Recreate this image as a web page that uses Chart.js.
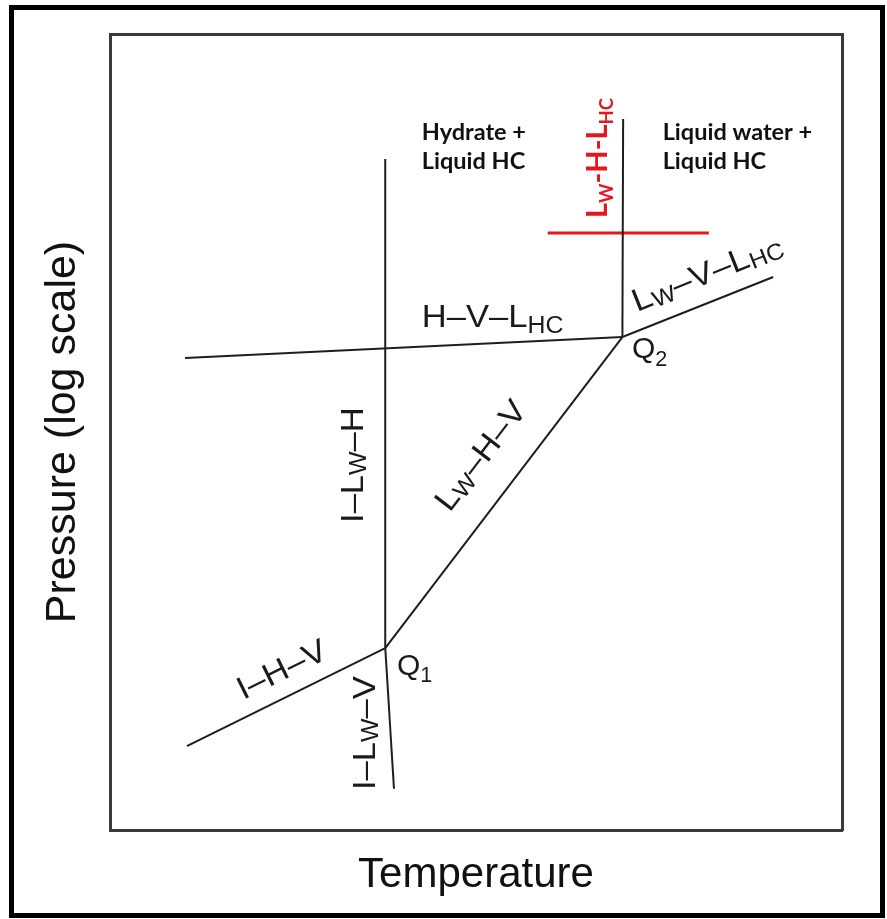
<!DOCTYPE html>
<html>
<head>
<meta charset="utf-8">
<script src="https://cdn.jsdelivr.net/npm/chart.js@4.4.1/dist/chart.umd.min.js"></script>
<style>
  html, body { margin: 0; padding: 0; background: #fff; }
  #wrap { position: relative; width: 887px; height: 919px; overflow: hidden; }
  #frame { position: absolute; left: 9px; top: 5px; width: 866px; height: 903px;
           border: 5px solid #000; pointer-events: none; }
  canvas { position: absolute; left: 0; top: 0; }
</style>
</head>
<body>
<div id="wrap">
  <canvas id="myChart" width="887" height="919"></canvas>
  <div id="frame"></div>
</div>
<script>
// phase boundary curves, temperature (arbitrary units) and pressure (log scale)
const curves = ["I-H-V", "I-Lw-V", "I-Lw-H", "Lw-H-V", "H-V-LHC", "Lw-V-LHC", "Lw-H-LHC"];
const tStart = [10.5, 37.6, 37.6, 37.6, 10.25, 70.0, 70.0];
const pStart = [2.07, 4.85, 4.85, 4.85, 60.1, 72.1, 72.1];
const tEnd   = [37.6, 38.8, 37.6, 70.0, 70.0, 90.6, 70.1];
const pEnd   = [4.85, 1.43, 338, 72.1, 72.1, 121.4, 478];

// red marker line across Lw-H-LHC
const redT = [59.8, 81.8];
const redP = [177.8, 177.8];

const tRange = [0, 100];
const pRange = [1, 1000];

const xTitle = "Temperature";
const yTitle = "Pressure (log scale)";

const datasets = curves.map((name, i) => ({
  label: name,
  data: [{ x: tStart[i], y: pStart[i] }, { x: tEnd[i], y: pEnd[i] }],
  showLine: true,
  borderColor: "#1e1e1e",
  borderWidth: 2,
  pointRadius: 0,
}));
datasets.push({
  label: "red",
  data: redT.map((t, i) => ({ x: t, y: redP[i] })),
  showLine: true,
  borderColor: "#e8161b",
  borderWidth: 3,
  pointRadius: 0,
});

const SANS = "'Liberation Sans', Arial, sans-serif";
const BOLD = "Lato, 'Noto Sans', sans-serif";

// text labels: anchor = start of baseline in data units, angle follows a curve when "along" is set
const labels = [
  { parts: [["Hydrate +"]], x: 42.6, p: 398.6, font: BOLD, weight: "bold", size: 23.5, color: "#111" },
  { parts: [["Liquid HC"]], x: 42.6, p: 309.9, font: BOLD, weight: "bold", size: 23.5, color: "#111" },
  { parts: [["Liquid water +"]], x: 75.5, p: 398.6, font: BOLD, weight: "bold", size: 23.5, color: "#111" },
  { parts: [["Liquid HC"]], x: 75.5, p: 309.9, font: BOLD, weight: "bold", size: 23.5, color: "#111" },
  { parts: [["L"], ["W", 1], ["-H-L"], ["HC", 1]], x: 67.9, p: 202.5, angle: -90,
    font: BOLD, weight: "bold", size: 29, color: "#e8161b", subScale: 0.64, subDrop: 0.22 },
  { parts: [["H\u2013V\u2013L"], ["HC", 1]], x: 42.6, p: 78.6, font: SANS, size: 32, hScale: 1.08, subDrop: 0.2 },
  { parts: [["L"], ["W", 1], ["\u2013V\u2013L"], ["HC", 1]], x: 72.0, p: 89.6, along: 5, font: SANS, size: 32, hScale: 1.08 },
  { parts: [["Q"], ["2", 1]], x: 71.3, p: 60.1, font: SANS, size: 30, subDrop: 0.25 },
  { parts: [["L"], ["W", 1], ["\u2013H\u2013V"]], x: 46.4, p: 15.65, along: 3, font: SANS, size: 32, hScale: 1.08 },
  { parts: [["I\u2013L"], ["W", 1], ["\u2013H"]], x: 34.6, p: 14.36, angle: -90, font: SANS, size: 32, hScale: 1.08 },
  { parts: [["I\u2013H\u2013V"]], x: 18.2, p: 3.09, along: 0, font: SANS, size: 32, hScale: 1.08 },
  { parts: [["Q"], ["1", 1]], x: 39.2, p: 3.84, font: SANS, size: 30, subDrop: 0.25 },
  { parts: [["I\u2013L"], ["W", 1], ["\u2013V"]], x: 36.2, p: 1.415, angle: -90, font: SANS, size: 32, hScale: 1.08 },
];

const labelPlugin = {
  id: "phaseLabels",
  afterDatasetsDraw(chart) {
    const ctx = chart.ctx;
    const xs = chart.scales.x, ys = chart.scales.y;
    labels.forEach((lb) => {
      let ang = (lb.angle || 0) * Math.PI / 180;
      if (lb.along !== undefined) {
        const i = lb.along;
        const dx = xs.getPixelForValue(tEnd[i]) - xs.getPixelForValue(tStart[i]);
        const dy = ys.getPixelForValue(pEnd[i]) - ys.getPixelForValue(pStart[i]);
        ang = Math.atan2(dy, dx);
      }
      const subScale = lb.subScale || 0.72;
      const subDrop = lb.subDrop !== undefined ? lb.subDrop : 0.1;
      ctx.save();
      ctx.translate(xs.getPixelForValue(lb.x), ys.getPixelForValue(lb.p));
      ctx.rotate(ang);
      ctx.scale(lb.hScale || 1, 1);
      ctx.fillStyle = lb.color || "#1a1a1a";
      ctx.textBaseline = "alphabetic";
      ctx.textAlign = "left";
      let cx = 0;
      lb.parts.forEach(([txt, sub]) => {
        const s = sub ? lb.size * subScale : lb.size;
        ctx.font = (lb.weight || "normal") + " " + s + "px " + lb.font;
        ctx.fillText(txt, cx, sub ? lb.size * subDrop : 0);
        cx += ctx.measureText(txt).width;
      });
      ctx.restore();
    });
  },
};

const hiddenTicks = { display: false };
const noGrid = { display: false, drawTicks: false };
const boxBorder = { display: true, color: "#3a3a3a", width: 3 };

new Chart(document.getElementById("myChart"), {
  type: "scatter",
  data: { datasets: datasets },
  options: {
    responsive: false,
    animation: false,
    layout: { autoPadding: false, padding: { left: 37.4, top: 34, right: 45, bottom: 18.6 } },
    plugins: { legend: { display: false }, tooltip: { enabled: false } },
    scales: {
      x: {
        type: "linear", position: "bottom", min: tRange[0], max: tRange[1],
        ticks: hiddenTicks, grid: noGrid, border: boxBorder,
        title: { display: true, text: xTitle, color: "#111",
                 font: { family: SANS, size: 42 }, padding: { top: 20, bottom: 0 } },
      },
      x2: {
        type: "linear", position: "top", min: tRange[0], max: tRange[1],
        ticks: hiddenTicks, grid: noGrid, border: boxBorder,
      },
      y: {
        type: "logarithmic", position: "left", min: pRange[0], max: pRange[1],
        ticks: hiddenTicks, grid: noGrid, border: boxBorder,
        title: { display: true, text: yTitle, color: "#111",
                 font: { family: SANS, size: 43 }, padding: { top: 0, bottom: 21 } },
      },
      y2: {
        type: "logarithmic", position: "right", min: pRange[0], max: pRange[1],
        ticks: hiddenTicks, grid: noGrid, border: boxBorder,
      },
    },
  },
  plugins: [labelPlugin],
});
</script>
</body>
</html>
